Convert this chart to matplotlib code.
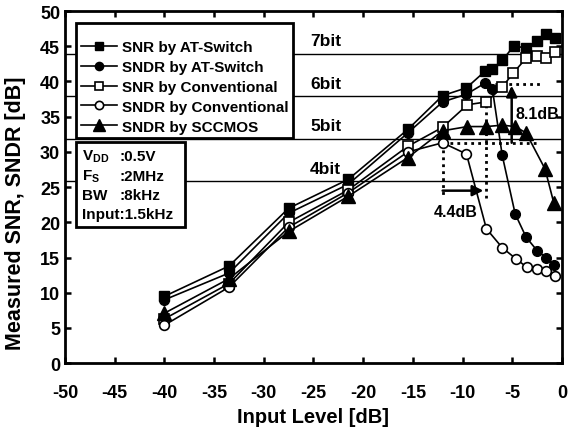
import matplotlib
matplotlib.use("Agg")
import matplotlib.pyplot as plt
from matplotlib.patches import Rectangle

plt.rcParams['font.family'] = ['Liberation Sans', 'DejaVu Sans']
plt.rcParams['font.weight'] = 'bold'
plt.rcParams['axes.unicode_minus'] = False
plt.rcParams['mathtext.fontset'] = 'custom'
plt.rcParams['mathtext.rm'] = 'Liberation Sans:bold'
plt.rcParams['mathtext.it'] = 'Liberation Sans:bold'
plt.rcParams['mathtext.bf'] = 'Liberation Sans:bold'

# --- dados (Input Level [dB] -> dB) ---
x_low = [-40, -33.5, -27.5, -21.5, -15.5]

x_snr_at = x_low + [-12, -9.6, -7.7, -7.0, -6.0, -4.8, -3.6, -2.5, -1.6, -0.7]
snr_at = [9.5, 13.8, 22.0, 26.1, 33.2, 38.0, 39.1, 41.5, 41.8, 43.0, 45.1, 44.7, 45.8, 46.7, 46.2]

x_sndr_at = x_low + [-12, -9.6, -7.7, -7.0, -6.0, -4.7, -3.6, -2.5, -1.6, -0.8]
sndr_at = [9.0, 12.8, 21.3, 25.4, 32.7, 37.1, 38.2, 39.8, 39.0, 29.5, 21.2, 17.9, 16.0, 15.0, 13.9]

x_snr_conv = x_low + [-12, -9.5, -7.6, -6.0, -4.9, -3.6, -2.5, -1.6, -0.7]
snr_conv = [6.3, 11.3, 20.0, 24.6, 30.8, 33.5, 36.7, 37.1, 39.2, 41.2, 43.3, 43.6, 43.4, 44.2]

x_sndr_conv = x_low + [-12, -9.6, -7.6, -6.0, -4.6, -3.5, -2.5, -1.6, -0.7]
sndr_conv = [5.4, 10.8, 19.3, 24.2, 30.0, 31.3, 29.7, 19.1, 16.4, 14.8, 13.6, 13.35, 13.1, 12.4]

x_sccmos = x_low + [-12, -9.5, -7.6, -6.0, -4.7, -3.6, -1.7, -0.8]
sndr_sccmos = [7.1, 12.0, 18.7, 23.7, 29.2, 33.0, 33.6, 33.6, 33.8, 33.6, 32.7, 27.6, 22.7]

# resolucao equivalente: 6.02*N + 1.76
bits = [4, 5, 6, 7]
bit_levels = [6.02 * n + 1.76 for n in bits]

fig = plt.figure(figsize=(5.71, 4.31), dpi=100)
ax = fig.add_axes([0.114, 0.155, 0.870, 0.817])

for lvl, n in zip(bit_levels, bits):
    ax.axhline(lvl, color='black', lw=1.0, zorder=1)
    ax.text(-25.35, lvl + 0.8, f"{n}bit", fontsize=12.5, fontweight='bold', ha='left', va='bottom', zorder=2)

kw = dict(color='black', lw=1.2, zorder=4)
ax.plot(x_snr_at, snr_at, marker='s', ms=6.5, mfc='black', mec='black', label='SNR by AT-Switch', **kw)
ax.plot(x_sndr_at, sndr_at, marker='o', ms=7, mfc='black', mec='black', label='SNDR by AT-Switch', **kw)
ax.plot(x_snr_conv, snr_conv, marker='s', ms=6.5, mfc='white', mec='black', mew=1.2, label='SNR by Conventional', **kw)
ax.plot(x_sndr_conv, sndr_conv, marker='o', ms=7, mfc='white', mec='black', mew=1.2, label='SNDR by Conventional', **kw)
ax.plot(x_sccmos, sndr_sccmos, marker='^', ms=9.5, mfc='black', mec='black', label='SNDR by SCCMOS', **kw)

# linhas pontilhadas e setas de anotacao
dot = dict(color='black', lw=2, linestyle=(0, (1, 1.5)), zorder=3)
ax.plot([-12, -12], [31.3, 23.4], **dot)
ax.plot([-7.6, -7.6], [36.6, 23.4], **dot)
ax.plot([-12, -2.4], [31.3, 31.3], **dot)
ax.plot([-7.4, -2.2], [39.6, 39.6], **dot)
ax.annotate('', xy=(-7.9, 24.5), xytext=(-12, 24.5),
            arrowprops=dict(arrowstyle='-|>', color='black', lw=1.8, mutation_scale=16, shrinkA=0, shrinkB=0), zorder=5)
ax.annotate('', xy=(-5.05, 39.4), xytext=(-5.05, 31.3),
            arrowprops=dict(arrowstyle='-|>', color='black', lw=1.8, mutation_scale=16, shrinkA=0, shrinkB=0), zorder=5)
ax.text(-10.7, 21.6, "4.4dB", fontsize=11.5, fontweight='bold', ha='center', va='center', zorder=5)
ax.text(-4.65, 35.4, "8.1dB", fontsize=11.5, fontweight='bold', ha='left', va='center', zorder=5)

leg = ax.legend(loc='upper left', bbox_to_anchor=(-48.89, 48.3), bbox_transform=ax.transData,
                fontsize=11, frameon=True, fancybox=False, edgecolor='black', framealpha=1,
                handlelength=2.4, handletextpad=0.28, labelspacing=0.38, borderpad=0.3,
                borderaxespad=0, title=' ', title_fontsize=5, markerscale=0.85)
leg.get_frame().set_linewidth(2)
leg.set_zorder(6)

# caixa de condicoes de medida
ax.add_patch(Rectangle((-48.9, 19.4), 11.0, 12.0, facecolor='white', edgecolor='black', lw=2, zorder=6))
info = [("V$_{\\rm DD}$", ":0.5V"), ("F$_{\\rm S}$", ":2MHz"), ("BW", ":8kHz")]
for i, (k, v) in enumerate(info):
    yy = 29.4 - i * 2.75
    ax.text(-48.3, yy, k, fontsize=11, fontweight='bold', ha='left', va='center', zorder=7)
    ax.text(-44.5, yy, v, fontsize=11, fontweight='bold', ha='left', va='center', zorder=7)
ax.text(-48.3, 29.4 - 3 * 2.75, "Input:1.5kHz", fontsize=11, fontweight='bold', ha='left', va='center', zorder=7)

ax.set_xlim(-50, 0)
ax.set_ylim(0, 50)
ax.set_xticks(range(-50, 1, 5))
ax.set_yticks(range(0, 51, 5))
ax.tick_params(direction='in', top=True, right=True, length=4, width=1.8, labelsize=13)
ax.tick_params(axis='x', pad=15)
ax.tick_params(axis='y', pad=3.5)
for lab in ax.get_xticklabels() + ax.get_yticklabels():
    lab.set_fontweight('bold')
for sp in ax.spines.values():
    sp.set_linewidth(2)
ax.set_xlabel("Input Level [dB]", fontsize=14.5, fontweight='bold', labelpad=4)
ax.set_ylabel("Measured SNR, SNDR [dB]", fontsize=15.5, fontweight='bold')
ax.yaxis.set_label_coords(-0.078, 0.43)

fig.savefig("out.png", dpi=100)
